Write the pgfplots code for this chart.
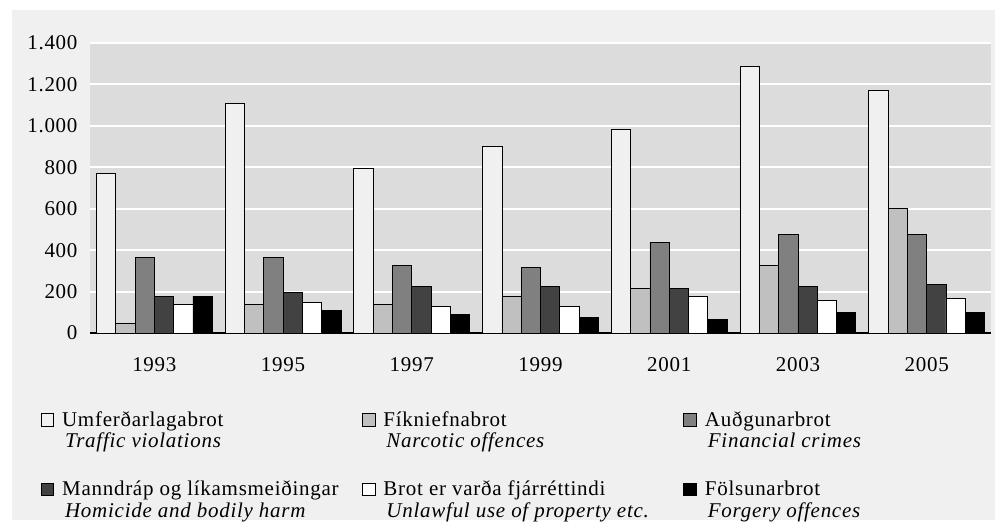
\documentclass[border=0pt]{standalone}
\usepackage{fontspec}
\setmainfont{Liberation Serif}[LetterSpace=3.5]
\usepackage{pgfplots}
\pgfplotsset{compat=1.18}
\definecolor{outergray}{RGB}{240,240,240}
\definecolor{plotgray}{RGB}{220,220,220}
\definecolor{trafficfill}{RGB}{240,240,240}
\definecolor{narcfill}{RGB}{192,192,192}
\definecolor{finfill}{RGB}{128,128,128}
\definecolor{homfill}{RGB}{66,66,66}
\newcommand{\cf}{\fontsize{21bp}{21.5bp}\selectfont}
\newcommand{\legtxt}[2]{\parbox[t]{300bp}{\strut #1\\\hspace*{3bp}\textit{#2}\strut}}
\begin{document}
\begin{tikzpicture}
\useasboundingbox (0bp,0bp) rectangle (1000bp,529bp);
\fill[outergray] (12bp,9bp) rectangle (995bp,519bp);
\begin{axis}[
  at={(90bp,196bp)}, anchor=south west,
  scale only axis, width=901bp, height=290bp,
  ybar=0pt,
  bar width=19.3bp,
  xmin=-0.5, xmax=6.5,
  ymin=0, ymax=1400,
  xtick={0,...,6},
  xticklabels={1993,1995,1997,1999,2001,2003,2005},
  ytick={0,200,...,1400},
  axis line style={draw=none},
  major tick length=0pt, minor tick length=0pt,
  tick style={draw=none},
  ymajorgrids,
  grid style={white, line width=2bp},
  extra y ticks={0},
  extra y tick labels={},
  extra y tick style={grid=major, major grid style={black, line width=1.2bp}},
  axis background/.style={fill=plotgray},
  tick label style={font=\cf},
  /pgf/number format/assume math mode=true,
  /pgf/number format/1000 sep={.},
  yticklabel style={xshift=-9bp},
  xticklabel style={yshift=-21bp},
  legend columns=3,
  legend style={
    at={(-0.05472,-0.269)}, anchor=north west,
    draw=none, fill=none, inner sep=0pt, outer sep=0pt,
    font=\cf, row sep=53bp,
    cells={anchor=base west},
    nodes={inner sep=0pt},
    /tikz/every odd column/.append style={column sep=8bp},
    /tikz/every even column/.append style={column sep=0bp},
  },
  legend image code/.code={\draw[#1] (0bp,0bp) rectangle (12.6bp,12.6bp);},
]
\addplot[draw=black, line width=0.8bp, fill=trafficfill] coordinates {(0,770) (1,1110) (2,793) (3,901) (4,982) (5,1288) (6,1170)};
\addplot[draw=black, line width=0.8bp, fill=narcfill] coordinates {(0,47) (1,138) (2,138) (3,177) (4,216) (5,327) (6,602)};
\addplot[draw=black, line width=0.8bp, fill=finfill] coordinates {(0,365) (1,365) (2,327) (3,317) (4,438) (5,476) (6,476)};
\addplot[draw=black, line width=0.8bp, fill=homfill] coordinates {(0,177) (1,196) (2,225) (3,225) (4,216) (5,225) (6,235)};
\addplot[draw=black, line width=0.8bp, fill=white] coordinates {(0,138) (1,148) (2,129) (3,129) (4,177) (5,158) (6,168)};
\addplot[draw=black, line width=0.8bp, fill=black] coordinates {(0,178) (1,110) (2,88) (3,77) (4,66) (5,98) (6,98)};
\addlegendentry{\legtxt{Umferðarlagabrot}{Traffic violations}}
\addlegendentry{\legtxt{Fíkniefnabrot}{Narcotic offences}}
\addlegendentry{\legtxt{Auðgunarbrot}{Financial crimes}}
\addlegendentry{\legtxt{Manndráp og líkamsmeiðingar}{Homicide and bodily harm}}
\addlegendentry{\legtxt{Brot er varða fjárréttindi}{Unlawful use of property etc.}}
\addlegendentry{\legtxt{Fölsunarbrot}{Forgery offences}}
\end{axis}
\end{tikzpicture}
\end{document}
